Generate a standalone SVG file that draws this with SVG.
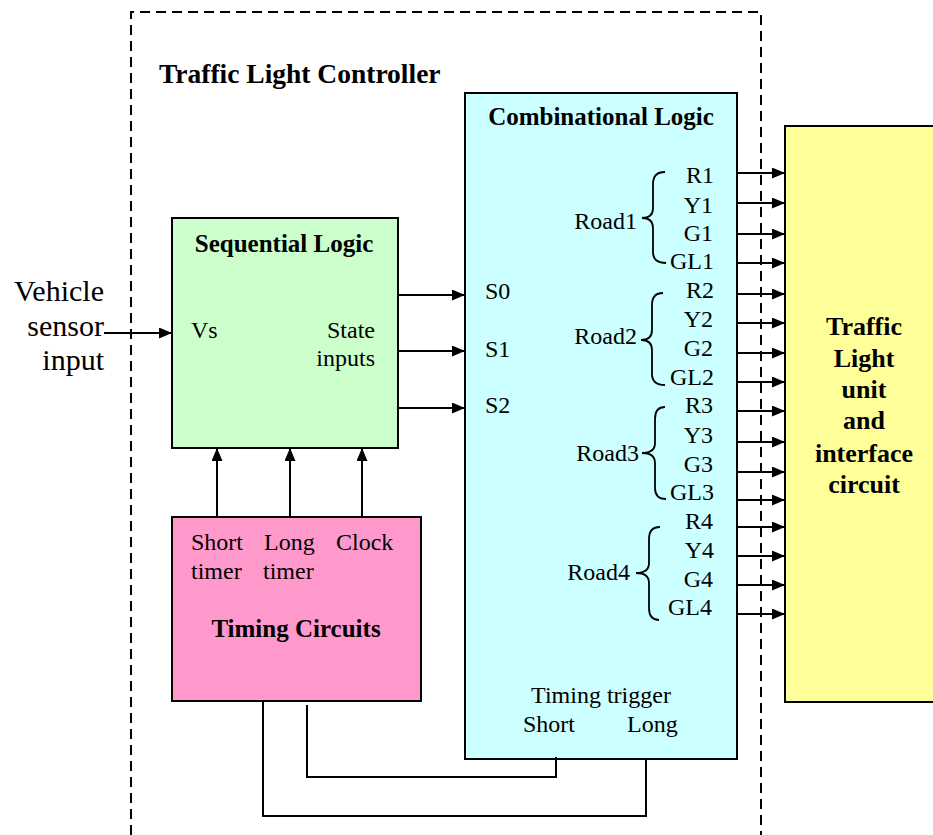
<svg xmlns="http://www.w3.org/2000/svg" width="933" height="835" viewBox="0 0 933 835">
<style>
text{font-family:"Liberation Serif","Times New Roman",serif;fill:#000}
.r{font-size:24px}
.b{font-size:25px;font-weight:bold}
.box{stroke:#000;stroke-width:2}
.w{stroke:#000;stroke-width:2;fill:none}
.a{stroke:#000;stroke-width:2;fill:none;marker-end:url(#ah)}
.br{stroke:#000;stroke-width:1.8;fill:none}
.e{text-anchor:end}
.m{text-anchor:middle}
</style>
<defs>
<marker id="ah" markerUnits="userSpaceOnUse" markerWidth="14" markerHeight="12" refX="13" refY="5.5" orient="auto">
<path d="M0,0 L13,5.5 L0,11 z" fill="#000"/>
</marker>
</defs>
<rect width="933" height="835" fill="#fff"/>
<g id="controller">
<path d="M131,835 V12 H761 V835" fill="none" stroke="#000" stroke-width="2" stroke-dasharray="10,6"/>
<text x="159" y="83" style="font-size:27.5px;font-weight:bold">Traffic Light Controller</text>
</g>
<g id="yellow">
<rect class="box" x="785" y="126" width="160" height="576" fill="#FFFF99"/>
<text class="m" x="864" y="335" style="font-size:26px;font-weight:bold">Traffic</text>
<text class="m" x="864" y="367" style="font-size:26px;font-weight:bold">Light</text>
<text class="m" x="864" y="398" style="font-size:26px;font-weight:bold">unit</text>
<text class="m" x="864" y="429" style="font-size:26px;font-weight:bold">and</text>
<text class="m" x="864" y="462" style="font-size:26px;font-weight:bold">interface</text>
<text class="m" x="864" y="493" style="font-size:26px;font-weight:bold">circuit</text>
</g>
<g id="combinational">
<rect class="box" x="465" y="93" width="272" height="666" fill="#CCFFFF"/>
<text class="b m" x="601" y="125">Combinational Logic</text>
<text class="r" x="485" y="299">S0</text>
<text class="r" x="485" y="357">S1</text>
<text class="r" x="485" y="413">S2</text>
<text class="r e" x="637" y="229">Road1</text>
<text class="r e" x="637" y="344">Road2</text>
<text class="r e" x="639" y="461">Road3</text>
<text class="r e" x="630" y="580">Road4</text>
<path class="br" d="M665,172 Q653,172 653,184 V208 Q653,218 642,218 Q653,218 653,228 V252 Q653,263 666,263"/>
<path class="br" d="M663,293 Q652,293 652,305 V330 Q652,340 641,340 Q652,340 652,350 V374 Q652,385 665,385"/>
<path class="br" d="M665,407 Q655,407 655,419 V443 Q655,453 642,453 Q655,453 655,463 V488 Q655,499 666,499"/>
<path class="br" d="M660,527 Q649,527 649,539 V563 Q649,573 636,573 Q649,573 649,583 V608 Q649,620 659,620"/>
<text class="r e" x="714" y="183">R1</text>
<text class="r e" x="713" y="213">Y1</text>
<text class="r e" x="713" y="241">G1</text>
<text class="r e" x="714" y="269">GL1</text>
<text class="r e" x="714" y="298">R2</text>
<text class="r e" x="713" y="327">Y2</text>
<text class="r e" x="713" y="356">G2</text>
<text class="r e" x="714" y="385">GL2</text>
<text class="r e" x="713" y="413">R3</text>
<text class="r e" x="713" y="443">Y3</text>
<text class="r e" x="713" y="472">G3</text>
<text class="r e" x="714" y="500">GL3</text>
<text class="r e" x="713" y="529">R4</text>
<text class="r e" x="714" y="558">Y4</text>
<text class="r e" x="713" y="587">G4</text>
<text class="r e" x="712" y="615">GL4</text>
<text class="r m" x="601" y="703">Timing trigger</text>
<text class="r" x="523" y="732">Short</text>
<text class="r" x="627" y="732">Long</text>
</g>
<g id="sequential">
<rect class="box" x="172" y="218" width="226" height="230" fill="#CCFFCC"/>
<text class="b m" x="284" y="252">Sequential Logic</text>
<text class="r" x="191" y="338">Vs</text>
<text class="r e" x="375" y="338">State</text>
<text class="r e" x="375" y="366">inputs</text>
</g>
<g id="timing">
<rect class="box" x="172" y="517" width="249" height="184" fill="#FF99CC"/>
<text class="r" x="191" y="550">Short</text>
<text class="r" x="264" y="550">Long</text>
<text class="r" x="336" y="550">Clock</text>
<text class="r" x="191" y="579">timer</text>
<text class="r" x="263" y="579">timer</text>
<text class="b m" x="296" y="637">Timing Circuits</text>
</g>
<g id="vehicle-input">
<text class="e" x="104" y="301" style="font-size:30px">Vehicle</text>
<text class="e" x="104" y="336" style="font-size:30px">sensor</text>
<text class="e" x="104" y="370" style="font-size:30px">input</text>
</g>
<g id="connectors">
<line class="a" x1="104" y1="333" x2="172" y2="333"/>
<line class="a" x1="398" y1="295" x2="465" y2="295"/>
<line class="a" x1="398" y1="351" x2="465" y2="351"/>
<line class="a" x1="398" y1="408" x2="465" y2="408"/>
<line class="a" x1="217" y1="517" x2="217" y2="448"/>
<line class="a" x1="290" y1="517" x2="290" y2="448"/>
<line class="a" x1="362" y1="517" x2="362" y2="448"/>
<line class="a" x1="737" y1="173" x2="785" y2="173"/>
<line class="a" x1="737" y1="203" x2="785" y2="203"/>
<line class="a" x1="737" y1="234" x2="785" y2="234"/>
<line class="a" x1="737" y1="263" x2="785" y2="263"/>
<line class="a" x1="737" y1="294" x2="785" y2="294"/>
<line class="a" x1="737" y1="323" x2="785" y2="323"/>
<line class="a" x1="737" y1="353" x2="785" y2="353"/>
<line class="a" x1="737" y1="382" x2="785" y2="382"/>
<line class="a" x1="737" y1="411" x2="785" y2="411"/>
<line class="a" x1="737" y1="442" x2="785" y2="442"/>
<line class="a" x1="737" y1="472" x2="785" y2="472"/>
<line class="a" x1="737" y1="500" x2="785" y2="500"/>
<line class="a" x1="737" y1="527" x2="785" y2="527"/>
<line class="a" x1="737" y1="556" x2="785" y2="556"/>
<line class="a" x1="737" y1="585" x2="785" y2="585"/>
<line class="a" x1="737" y1="614" x2="785" y2="614"/>
<path class="w" d="M307,705 V777 H556 V757"/>
<path class="w" d="M263,701 V816 H646 V759"/>
</g>
</svg>
